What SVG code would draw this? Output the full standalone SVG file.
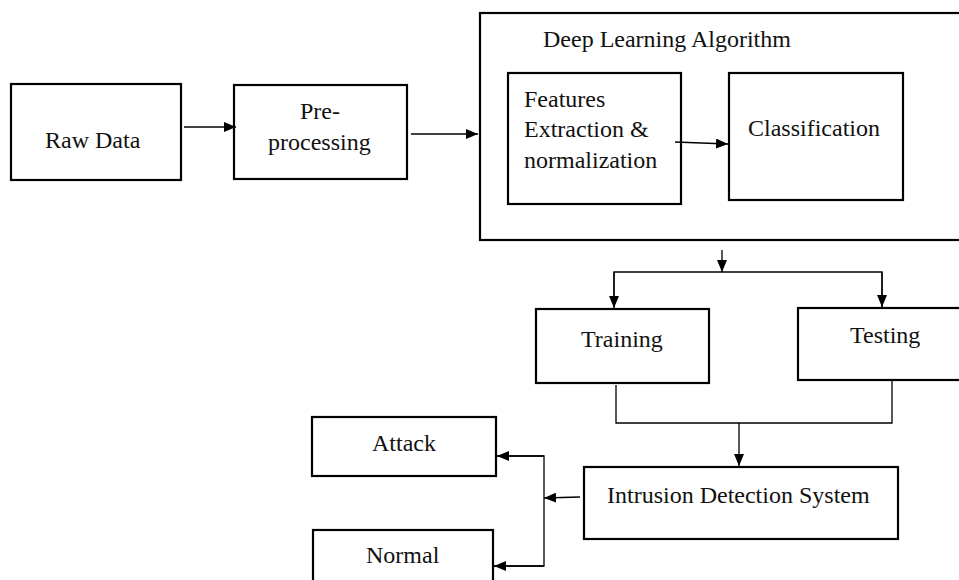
<svg xmlns="http://www.w3.org/2000/svg" width="959" height="580" viewBox="0 0 959 580">
<style>
.box{fill:#fff;stroke:#000;stroke-width:2.2}
.t{font-family:"Liberation Serif","Times New Roman",serif;font-size:24px;fill:#111}
.c{fill:none;stroke:#000;stroke-width:1.3}
</style>
<defs>
<marker id="ah" markerUnits="userSpaceOnUse" markerWidth="12" markerHeight="10" refX="12" refY="5" orient="auto">
<path d="M0,0 L12,5 L0,10 Z" fill="#000"/>
</marker>
</defs>
<rect width="959" height="580" fill="#fff"/>
<g id="deep-learning">
<rect class="box" x="480" y="13" width="485" height="227"/>
<text class="t" x="543" y="47">Deep Learning Algorithm</text>
</g>
<g id="raw-data">
<rect class="box" x="11" y="84" width="170" height="96"/>
<text class="t" x="45" y="148">Raw Data</text>
</g>
<g id="pre-processing">
<rect class="box" x="234" y="85" width="173" height="94"/>
<text class="t" x="300" y="119">Pre-</text>
<text class="t" x="268" y="150">processing</text>
</g>
<g id="features">
<rect class="box" x="508" y="73" width="173" height="131"/>
<text class="t" x="524" y="107">Features</text>
<text class="t" x="524" y="137">Extraction &amp;</text>
<text class="t" x="524" y="168">normalization</text>
</g>
<g id="classification">
<rect class="box" x="729" y="73" width="174" height="127"/>
<text class="t" x="748" y="136">Classification</text>
</g>
<g id="training">
<rect class="box" x="536" y="309" width="173" height="74"/>
<text class="t" x="581" y="347">Training</text>
</g>
<g id="testing">
<rect class="box" x="798" y="308" width="170" height="72"/>
<text class="t" x="850" y="343">Testing</text>
</g>
<g id="ids">
<rect class="box" x="584" y="467" width="314" height="72"/>
<text class="t" x="607" y="503">Intrusion Detection System</text>
</g>
<g id="attack">
<rect class="box" x="312" y="417" width="184" height="59"/>
<text class="t" x="372" y="451">Attack</text>
</g>
<g id="normal">
<rect class="box" x="313" y="530" width="180" height="60"/>
<text class="t" x="366" y="563">Normal</text>
</g>
<g id="connectors">
<line class="c" x1="184" y1="127" x2="236" y2="127" marker-end="url(#ah)"/>
<line class="c" x1="411" y1="134" x2="478" y2="134" marker-end="url(#ah)"/>
<line class="c" x1="675" y1="142" x2="728" y2="144" marker-end="url(#ah)"/>
<line class="c" x1="722" y1="250" x2="722" y2="272" marker-end="url(#ah)"/>
<polyline class="c" points="614,307 614,272 882,272 882,307"/>
<line class="c" x1="614" y1="272" x2="614" y2="308" marker-end="url(#ah)"/>
<line class="c" x1="882" y1="272" x2="882" y2="307" marker-end="url(#ah)"/>
<polyline class="c" points="616,385 616,423 892,423 892,381"/>
<line class="c" x1="739" y1="423" x2="739" y2="466" marker-end="url(#ah)"/>
<line class="c" x1="580" y1="497" x2="544" y2="498" marker-end="url(#ah)"/>
<polyline class="c" points="497,456 544,456 544,566 494,566"/>
<line class="c" x1="544" y1="456" x2="497" y2="456" marker-end="url(#ah)"/>
<line class="c" x1="544" y1="566" x2="494" y2="566" marker-end="url(#ah)"/>
</g>
</svg>
